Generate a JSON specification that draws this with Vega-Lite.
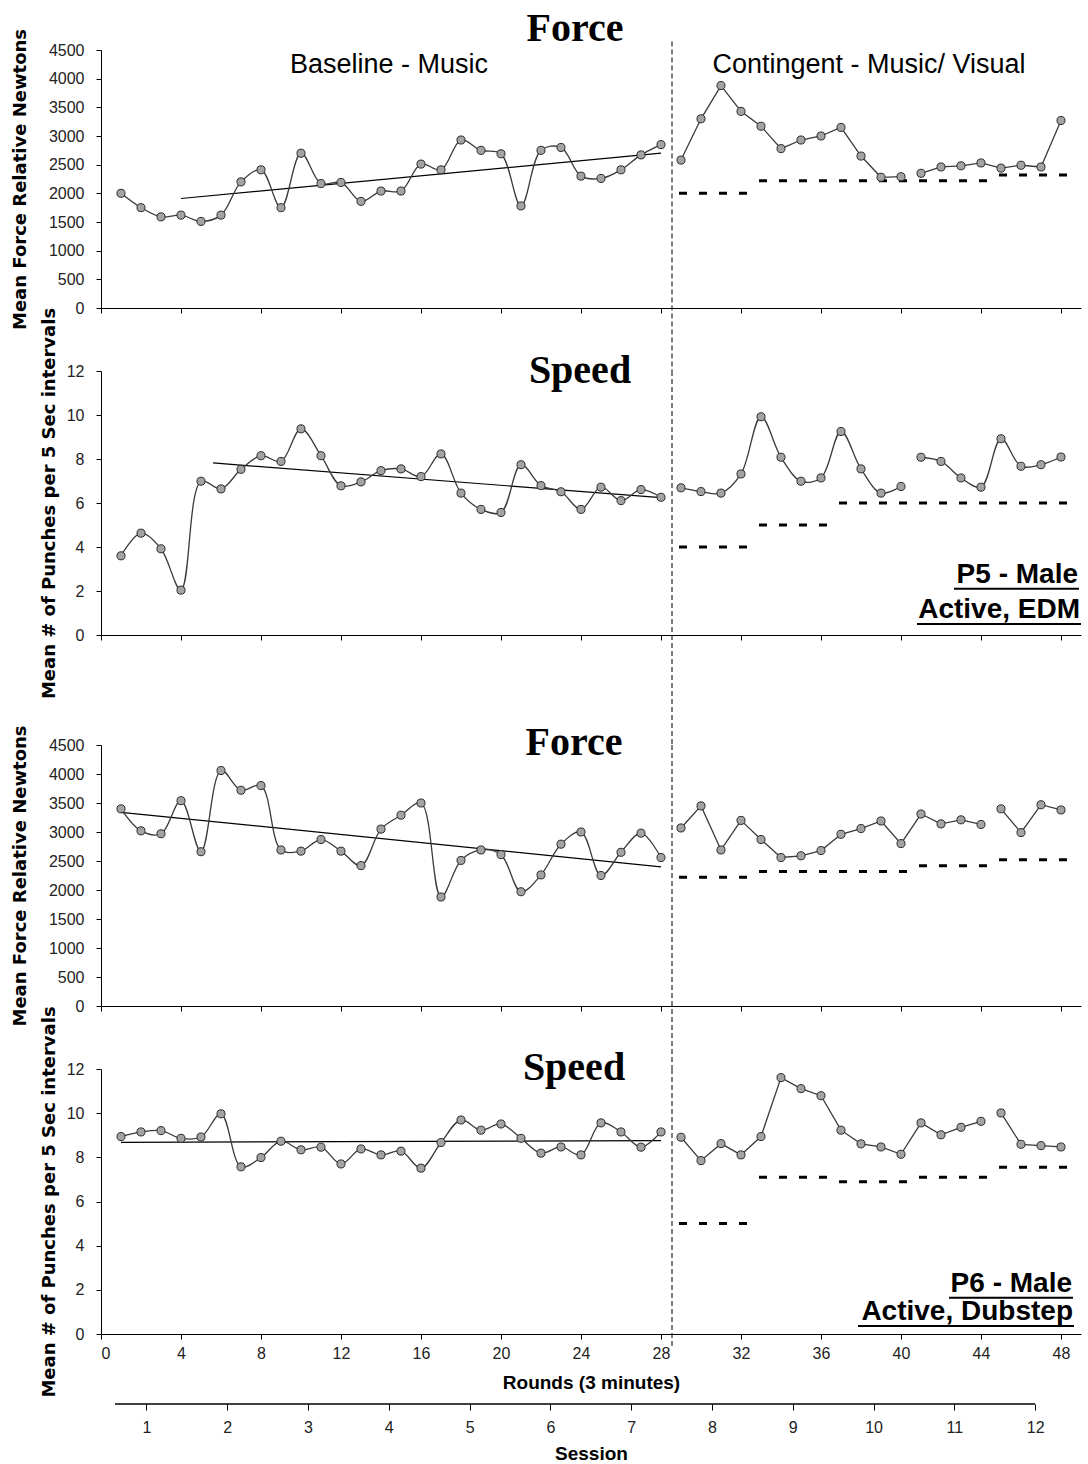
{
"$schema": "https://vega.github.io/schema/vega-lite/v6.json",
"background": "white",
"padding": {"left": 11, "top": 8, "right": 0, "bottom": 0},
"bounds": "flush",
"spacing": 63,
"datasets": {
"pts": [
{"p":"P5F","s":"B","r":1,"v":2000},{"p":"P5F","s":"B","r":2,"v":1750},{"p":"P5F","s":"B","r":3,"v":1590},{"p":"P5F","s":"B","r":4,"v":1620},{"p":"P5F","s":"B","r":5,"v":1510},{"p":"P5F","s":"B","r":6,"v":1620},{"p":"P5F","s":"B","r":7,"v":2200},{"p":"P5F","s":"B","r":8,"v":2410},{"p":"P5F","s":"B","r":9,"v":1750},{"p":"P5F","s":"B","r":10,"v":2700},{"p":"P5F","s":"B","r":11,"v":2170},{"p":"P5F","s":"B","r":12,"v":2190},{"p":"P5F","s":"B","r":13,"v":1860},{"p":"P5F","s":"B","r":14,"v":2040},{"p":"P5F","s":"B","r":15,"v":2040},{"p":"P5F","s":"B","r":16,"v":2510},{"p":"P5F","s":"B","r":17,"v":2410},{"p":"P5F","s":"B","r":18,"v":2930},{"p":"P5F","s":"B","r":19,"v":2750},{"p":"P5F","s":"B","r":20,"v":2690},{"p":"P5F","s":"B","r":21,"v":1780},{"p":"P5F","s":"B","r":22,"v":2750},{"p":"P5F","s":"B","r":23,"v":2800},{"p":"P5F","s":"B","r":24,"v":2300},{"p":"P5F","s":"B","r":25,"v":2260},{"p":"P5F","s":"B","r":26,"v":2410},{"p":"P5F","s":"B","r":27,"v":2670},{"p":"P5F","s":"B","r":28,"v":2850},
{"p":"P5F","s":"C1","r":29,"v":2580},{"p":"P5F","s":"C1","r":30,"v":3300},{"p":"P5F","s":"C1","r":31,"v":3880},{"p":"P5F","s":"C1","r":32,"v":3430},{"p":"P5F","s":"C1","r":33,"v":3170},{"p":"P5F","s":"C1","r":34,"v":2780},{"p":"P5F","s":"C1","r":35,"v":2930},{"p":"P5F","s":"C1","r":36,"v":3000},{"p":"P5F","s":"C1","r":37,"v":3150},{"p":"P5F","s":"C1","r":38,"v":2650},{"p":"P5F","s":"C1","r":39,"v":2280},{"p":"P5F","s":"C1","r":40,"v":2290},
{"p":"P5F","s":"C2","r":41,"v":2350},{"p":"P5F","s":"C2","r":42,"v":2460},{"p":"P5F","s":"C2","r":43,"v":2480},{"p":"P5F","s":"C2","r":44,"v":2530},{"p":"P5F","s":"C2","r":45,"v":2440},{"p":"P5F","s":"C2","r":46,"v":2490},{"p":"P5F","s":"C2","r":47,"v":2460},{"p":"P5F","s":"C2","r":48,"v":3270},
{"p":"P5S","s":"B","r":1,"v":3.6},{"p":"P5S","s":"B","r":2,"v":4.63},{"p":"P5S","s":"B","r":3,"v":3.92},{"p":"P5S","s":"B","r":4,"v":2.04},{"p":"P5S","s":"B","r":5,"v":6.99},{"p":"P5S","s":"B","r":6,"v":6.64},{"p":"P5S","s":"B","r":7,"v":7.53},{"p":"P5S","s":"B","r":8,"v":8.15},{"p":"P5S","s":"B","r":9,"v":7.89},{"p":"P5S","s":"B","r":10,"v":9.37},{"p":"P5S","s":"B","r":11,"v":8.15},{"p":"P5S","s":"B","r":12,"v":6.78},{"p":"P5S","s":"B","r":13,"v":6.96},{"p":"P5S","s":"B","r":14,"v":7.47},{"p":"P5S","s":"B","r":15,"v":7.55},{"p":"P5S","s":"B","r":16,"v":7.2},{"p":"P5S","s":"B","r":17,"v":8.23},{"p":"P5S","s":"B","r":18,"v":6.45},{"p":"P5S","s":"B","r":19,"v":5.71},{"p":"P5S","s":"B","r":20,"v":5.57},{"p":"P5S","s":"B","r":21,"v":7.74},{"p":"P5S","s":"B","r":22,"v":6.79},{"p":"P5S","s":"B","r":23,"v":6.51},{"p":"P5S","s":"B","r":24,"v":5.71},{"p":"P5S","s":"B","r":25,"v":6.72},{"p":"P5S","s":"B","r":26,"v":6.11},{"p":"P5S","s":"B","r":27,"v":6.61},{"p":"P5S","s":"B","r":28,"v":6.26},
{"p":"P5S","s":"C1","r":29,"v":6.69},{"p":"P5S","s":"C1","r":30,"v":6.52},{"p":"P5S","s":"C1","r":31,"v":6.45},{"p":"P5S","s":"C1","r":32,"v":7.32},{"p":"P5S","s":"C1","r":33,"v":9.92},{"p":"P5S","s":"C1","r":34,"v":8.08},{"p":"P5S","s":"C1","r":35,"v":6.99},{"p":"P5S","s":"C1","r":36,"v":7.14},{"p":"P5S","s":"C1","r":37,"v":9.25},{"p":"P5S","s":"C1","r":38,"v":7.55},{"p":"P5S","s":"C1","r":39,"v":6.45},{"p":"P5S","s":"C1","r":40,"v":6.75},
{"p":"P5S","s":"C2","r":41,"v":8.08},{"p":"P5S","s":"C2","r":42,"v":7.89},{"p":"P5S","s":"C2","r":43,"v":7.14},{"p":"P5S","s":"C2","r":44,"v":6.72},{"p":"P5S","s":"C2","r":45,"v":8.92},{"p":"P5S","s":"C2","r":46,"v":7.67},{"p":"P5S","s":"C2","r":47,"v":7.74},{"p":"P5S","s":"C2","r":48,"v":8.09},
{"p":"P6F","s":"B","r":1,"v":3400},{"p":"P6F","s":"B","r":2,"v":3020},{"p":"P6F","s":"B","r":3,"v":2970},{"p":"P6F","s":"B","r":4,"v":3540},{"p":"P6F","s":"B","r":5,"v":2660},{"p":"P6F","s":"B","r":6,"v":4060},{"p":"P6F","s":"B","r":7,"v":3720},{"p":"P6F","s":"B","r":8,"v":3800},{"p":"P6F","s":"B","r":9,"v":2690},{"p":"P6F","s":"B","r":10,"v":2670},{"p":"P6F","s":"B","r":11,"v":2870},{"p":"P6F","s":"B","r":12,"v":2670},{"p":"P6F","s":"B","r":13,"v":2420},{"p":"P6F","s":"B","r":14,"v":3050},{"p":"P6F","s":"B","r":15,"v":3290},{"p":"P6F","s":"B","r":16,"v":3500},{"p":"P6F","s":"B","r":17,"v":1880},{"p":"P6F","s":"B","r":18,"v":2510},{"p":"P6F","s":"B","r":19,"v":2690},{"p":"P6F","s":"B","r":20,"v":2610},{"p":"P6F","s":"B","r":21,"v":1970},{"p":"P6F","s":"B","r":22,"v":2260},{"p":"P6F","s":"B","r":23,"v":2790},{"p":"P6F","s":"B","r":24,"v":3000},{"p":"P6F","s":"B","r":25,"v":2250},{"p":"P6F","s":"B","r":26,"v":2650},{"p":"P6F","s":"B","r":27,"v":2980},{"p":"P6F","s":"B","r":28,"v":2560},
{"p":"P6F","s":"C1","r":29,"v":3070},{"p":"P6F","s":"C1","r":30,"v":3450},{"p":"P6F","s":"C1","r":31,"v":2690},{"p":"P6F","s":"C1","r":32,"v":3200},{"p":"P6F","s":"C1","r":33,"v":2870},{"p":"P6F","s":"C1","r":34,"v":2560},{"p":"P6F","s":"C1","r":35,"v":2590},{"p":"P6F","s":"C1","r":36,"v":2680},{"p":"P6F","s":"C1","r":37,"v":2960},{"p":"P6F","s":"C1","r":38,"v":3060},{"p":"P6F","s":"C1","r":39,"v":3190},{"p":"P6F","s":"C1","r":40,"v":2800},{"p":"P6F","s":"C1","r":41,"v":3310},{"p":"P6F","s":"C1","r":42,"v":3140},{"p":"P6F","s":"C1","r":43,"v":3210},{"p":"P6F","s":"C1","r":44,"v":3130},
{"p":"P6F","s":"C2","r":45,"v":3400},{"p":"P6F","s":"C2","r":46,"v":2990},{"p":"P6F","s":"C2","r":47,"v":3470},{"p":"P6F","s":"C2","r":48,"v":3380},
{"p":"P6S","s":"B","r":1,"v":8.94},{"p":"P6S","s":"B","r":2,"v":9.15},{"p":"P6S","s":"B","r":3,"v":9.21},{"p":"P6S","s":"B","r":4,"v":8.86},{"p":"P6S","s":"B","r":5,"v":8.92},{"p":"P6S","s":"B","r":6,"v":9.97},{"p":"P6S","s":"B","r":7,"v":7.57},{"p":"P6S","s":"B","r":8,"v":7.99},{"p":"P6S","s":"B","r":9,"v":8.73},{"p":"P6S","s":"B","r":10,"v":8.34},{"p":"P6S","s":"B","r":11,"v":8.46},{"p":"P6S","s":"B","r":12,"v":7.7},{"p":"P6S","s":"B","r":13,"v":8.38},{"p":"P6S","s":"B","r":14,"v":8.11},{"p":"P6S","s":"B","r":15,"v":8.28},{"p":"P6S","s":"B","r":16,"v":7.51},{"p":"P6S","s":"B","r":17,"v":8.67},{"p":"P6S","s":"B","r":18,"v":9.69},{"p":"P6S","s":"B","r":19,"v":9.23},{"p":"P6S","s":"B","r":20,"v":9.51},{"p":"P6S","s":"B","r":21,"v":8.86},{"p":"P6S","s":"B","r":22,"v":8.19},{"p":"P6S","s":"B","r":23,"v":8.47},{"p":"P6S","s":"B","r":24,"v":8.11},{"p":"P6S","s":"B","r":25,"v":9.56},{"p":"P6S","s":"B","r":26,"v":9.15},{"p":"P6S","s":"B","r":27,"v":8.46},{"p":"P6S","s":"B","r":28,"v":9.15},
{"p":"P6S","s":"C1","r":29,"v":8.91},{"p":"P6S","s":"C1","r":30,"v":7.85},{"p":"P6S","s":"C1","r":31,"v":8.62},{"p":"P6S","s":"C1","r":32,"v":8.11},{"p":"P6S","s":"C1","r":33,"v":8.94},{"p":"P6S","s":"C1","r":34,"v":11.61},{"p":"P6S","s":"C1","r":35,"v":11.11},{"p":"P6S","s":"C1","r":36,"v":10.79},{"p":"P6S","s":"C1","r":37,"v":9.23},{"p":"P6S","s":"C1","r":38,"v":8.61},{"p":"P6S","s":"C1","r":39,"v":8.47},{"p":"P6S","s":"C1","r":40,"v":8.14},{"p":"P6S","s":"C1","r":41,"v":9.56},{"p":"P6S","s":"C1","r":42,"v":9.02},{"p":"P6S","s":"C1","r":43,"v":9.36},{"p":"P6S","s":"C1","r":44,"v":9.63},
{"p":"P6S","s":"C2","r":45,"v":10.01},{"p":"P6S","s":"C2","r":46,"v":8.59},{"p":"P6S","s":"C2","r":47,"v":8.53},{"p":"P6S","s":"C2","r":48,"v":8.47}
],
"trend": [
{"p":"P5F","r":4,"v":1910,"r2":28,"v2":2700},
{"p":"P5S","r":5.6,"v":7.82,"r2":28,"v2":6.24},
{"p":"P6F","r":1,"v":3340,"r2":28,"v2":2400},
{"p":"P6S","r":1,"v":8.68,"r2":28,"v2":8.76}
],
"crit": [
{"p":"P5F","r":28.9,"r2":32.3,"v":2000},{"p":"P5F","r":32.9,"r2":44.3,"v":2220},{"p":"P5F","r":44.9,"r2":48.3,"v":2320},
{"p":"P5S","r":28.9,"r2":32.3,"v":4.0},{"p":"P5S","r":32.9,"r2":36.3,"v":5.0},{"p":"P5S","r":36.9,"r2":48.3,"v":6.0},
{"p":"P6F","r":28.9,"r2":32.3,"v":2220},{"p":"P6F","r":32.9,"r2":40.3,"v":2320},{"p":"P6F","r":40.9,"r2":44.3,"v":2420},{"p":"P6F","r":44.9,"r2":48.3,"v":2520},
{"p":"P6S","r":28.9,"r2":32.3,"v":5.0},{"p":"P6S","r":32.9,"r2":36.3,"v":7.1},{"p":"P6S","r":36.9,"r2":40.3,"v":6.9},{"p":"P6S","r":40.9,"r2":44.3,"v":7.1},{"p":"P6S","r":44.9,"r2":48.3,"v":7.55}
],
"vline": [
{"p":"P5F","r":28.55,"v":4650,"v2":-1099},
{"p":"P5S","r":28.55,"v":12,"v2":-5.0},
{"p":"P6F","r":28.55,"v":4500,"v2":-1086},
{"p":"P6S","r":28.55,"v":12,"v2":-0.6}
],
"ttl": [
{"p":"P5F","r":23.7,"v":4657,"t":"Force"},
{"p":"P5S","r":23.95,"v":11.45,"t":"Speed"},
{"p":"P6F","r":23.65,"v":4328,"t":"Force"},
{"p":"P6S","r":23.65,"v":11.5,"t":"Speed"}
],
"notes": [
{"p":"P5F","r":14.4,"v":4100,"t":"Baseline - Music"},
{"p":"P5F","r":38.4,"v":4100,"t":"Contingent - Music/ Visual"},
{"p":"P5S","r":48.85,"v":2.37,"t":"P5 - Male"},
{"p":"P5S","r":48.95,"v":0.78,"t":"Active, EDM"},
{"p":"P6S","r":48.55,"v":1.91,"t":"P6 - Male"},
{"p":"P6S","r":48.6,"v":0.64,"t":"Active, Dubstep"}
],
"ul": [
{"p":"P5S","r":42.65,"r2":48.9,"v":2.1},
{"p":"P5S","r":40.8,"r2":49.0,"v":0.5},
{"p":"P6S","r":42.4,"r2":48.6,"v":1.64},
{"p":"P6S","r":37.85,"r2":48.65,"v":0.36}
],
"sess": [{"a":0.611,"b":12.0}]
},
"vconcat": [
{
"width": 980, "height": 258,
"encoding": {
"x": {"field": "r", "type": "quantitative", "scale": {"domain": [0, 49], "nice": false, "zero": false}, "axis": {"values": [0,4,8,12,16,20,24,28,32,36,40,44,48], "labels": false, "title": null}},
"y": {"field": "v", "type": "quantitative", "scale": {"domain": [0, 4500], "nice": false}, "axis": {"values": [0,500,1000,1500,2000,2500,3000,3500,4000,4500], "format": "d", "title": "Mean Force Relative Newtons", "titlePadding": 19}}
},
"layer": [
{"data": {"name": "vline"}, "transform": [{"filter": "datum.p == 'P5F'"}], "mark": {"type": "rule", "strokeDash": [5, 3], "strokeWidth": 1, "color": "black"}, "encoding": {"y2": {"field": "v2"}}},
{"data": {"name": "crit"}, "transform": [{"filter": "datum.p == 'P5F'"}], "mark": {"type": "rule", "strokeDash": [8, 12], "strokeWidth": 3, "color": "black"}, "encoding": {"x2": {"field": "r2"}}},
{"data": {"name": "trend"}, "transform": [{"filter": "datum.p == 'P5F'"}], "mark": {"type": "rule", "strokeWidth": 1.2, "color": "black"}, "encoding": {"x2": {"field": "r2"}, "y2": {"field": "v2"}}},
{"data": {"name": "pts"}, "transform": [{"filter": "datum.p == 'P5F' && datum.s == 'B'"}], "mark": {"type": "line", "interpolate": "catmull-rom", "color": "#3a3a3a", "strokeWidth": 1.3}},
{"data": {"name": "pts"}, "transform": [{"filter": "datum.p == 'P5F' && datum.s != 'B'"}], "mark": {"type": "line", "color": "#3a3a3a", "strokeWidth": 1.3}, "encoding": {"detail": {"field": "s"}}},
{"data": {"name": "pts"}, "transform": [{"filter": "datum.p == 'P5F'"}], "mark": {"type": "point", "filled": true, "fill": "#a3a3a3", "stroke": "#2b2b2b", "strokeWidth": 1, "size": 65, "opacity": 1}},
{"data": {"name": "notes"}, "transform": [{"filter": "datum.p == 'P5F'"}], "mark": {"type": "text", "font": "Liberation Sans", "fontSize": 27, "align": "center", "baseline": "alphabetic", "color": "black"}, "encoding": {"text": {"field": "t"}}},
{"data": {"name": "ttl"}, "transform": [{"filter": "datum.p == 'P5F'"}], "mark": {"type": "text", "font": "Liberation Serif", "fontSize": 40, "fontWeight": "bold", "align": "center", "baseline": "alphabetic", "color": "black"}, "encoding": {"text": {"field": "t"}}}
]
},
{
"width": 980, "height": 264,
"encoding": {
"x": {"field": "r", "type": "quantitative", "scale": {"domain": [0, 49], "nice": false, "zero": false}, "axis": {"values": [0,4,8,12,16,20,24,28,32,36,40,44,48], "labels": false, "title": null}},
"y": {"field": "v", "type": "quantitative", "scale": {"domain": [0, 12], "nice": false}, "axis": {"values": [0,2,4,6,8,10,12], "title": "Mean # of Punches per 5  Sec intervals", "titlePadding": 8}}
},
"layer": [
{"data": {"name": "vline"}, "transform": [{"filter": "datum.p == 'P5S'"}], "mark": {"type": "rule", "strokeDash": [5, 3], "strokeWidth": 1, "color": "black"}, "encoding": {"y2": {"field": "v2"}}},
{"data": {"name": "crit"}, "transform": [{"filter": "datum.p == 'P5S'"}], "mark": {"type": "rule", "strokeDash": [8, 12], "strokeWidth": 3, "color": "black"}, "encoding": {"x2": {"field": "r2"}}},
{"data": {"name": "trend"}, "transform": [{"filter": "datum.p == 'P5S'"}], "mark": {"type": "rule", "strokeWidth": 1.2, "color": "black"}, "encoding": {"x2": {"field": "r2"}, "y2": {"field": "v2"}}},
{"data": {"name": "pts"}, "transform": [{"filter": "datum.p == 'P5S' && datum.s == 'B'"}], "mark": {"type": "line", "interpolate": "catmull-rom", "color": "#3a3a3a", "strokeWidth": 1.3}},
{"data": {"name": "pts"}, "transform": [{"filter": "datum.p == 'P5S' && datum.s != 'B'"}], "mark": {"type": "line", "interpolate": "catmull-rom", "color": "#3a3a3a", "strokeWidth": 1.3}, "encoding": {"detail": {"field": "s"}}},
{"data": {"name": "pts"}, "transform": [{"filter": "datum.p == 'P5S'"}], "mark": {"type": "point", "filled": true, "fill": "#a3a3a3", "stroke": "#2b2b2b", "strokeWidth": 1, "size": 65, "opacity": 1}},
{"data": {"name": "notes"}, "transform": [{"filter": "datum.p == 'P5S'"}], "mark": {"type": "text", "font": "Liberation Sans", "fontSize": 28, "fontWeight": "bold", "align": "right", "baseline": "alphabetic", "color": "black"}, "encoding": {"text": {"field": "t"}}},
{"data": {"name": "ul"}, "transform": [{"filter": "datum.p == 'P5S'"}], "mark": {"type": "rule", "strokeWidth": 2, "color": "black"}, "encoding": {"x2": {"field": "r2"}}},
{"data": {"name": "ttl"}, "transform": [{"filter": "datum.p == 'P5S'"}], "mark": {"type": "text", "font": "Liberation Serif", "fontSize": 40, "fontWeight": "bold", "align": "center", "baseline": "alphabetic", "color": "black"}, "encoding": {"text": {"field": "t"}}}
]
},
{
"width": 980, "height": 308,
"encoding": {
"x": {"field": "r", "type": "quantitative", "scale": {"domain": [0, 49], "nice": false, "zero": false}, "axis": {"values": [0,4,8,12,16,20,24,28,32,36,40,44,48], "labels": false, "title": null}},
"y": {"field": "v", "type": "quantitative", "scale": {"domain": [0, 4500], "range": [308, 47], "nice": false}, "axis": {"values": [0,500,1000,1500,2000,2500,3000,3500,4000,4500], "format": "d", "title": "Mean Force Relative Newtons", "titlePadding": 19}}
},
"layer": [
{"data": {"name": "vline"}, "transform": [{"filter": "datum.p == 'P6F'"}], "mark": {"type": "rule", "strokeDash": [5, 3], "strokeWidth": 1, "color": "black"}, "encoding": {"y2": {"field": "v2"}}},
{"data": {"name": "crit"}, "transform": [{"filter": "datum.p == 'P6F'"}], "mark": {"type": "rule", "strokeDash": [8, 12], "strokeWidth": 3, "color": "black"}, "encoding": {"x2": {"field": "r2"}}},
{"data": {"name": "trend"}, "transform": [{"filter": "datum.p == 'P6F'"}], "mark": {"type": "rule", "strokeWidth": 1.2, "color": "black"}, "encoding": {"x2": {"field": "r2"}, "y2": {"field": "v2"}}},
{"data": {"name": "pts"}, "transform": [{"filter": "datum.p == 'P6F' && datum.s == 'B'"}], "mark": {"type": "line", "interpolate": "catmull-rom", "color": "#3a3a3a", "strokeWidth": 1.3}},
{"data": {"name": "pts"}, "transform": [{"filter": "datum.p == 'P6F' && datum.s != 'B'"}], "mark": {"type": "line", "color": "#3a3a3a", "strokeWidth": 1.3}, "encoding": {"detail": {"field": "s"}}},
{"data": {"name": "pts"}, "transform": [{"filter": "datum.p == 'P6F'"}], "mark": {"type": "point", "filled": true, "fill": "#a3a3a3", "stroke": "#2b2b2b", "strokeWidth": 1, "size": 65, "opacity": 1}},
{"data": {"name": "ttl"}, "transform": [{"filter": "datum.p == 'P6F'"}], "mark": {"type": "text", "font": "Liberation Serif", "fontSize": 40, "fontWeight": "bold", "align": "center", "baseline": "alphabetic", "color": "black"}, "encoding": {"text": {"field": "t"}}}
]
},
{
"width": 980, "height": 265,
"encoding": {
"x": {"field": "r", "type": "quantitative", "scale": {"domain": [0, 49], "nice": false, "zero": false}, "axis": {"values": [0,4,8,12,16,20,24,28,32,36,40,44,48], "title": "Rounds (3 minutes)", "labelPadding": 6, "titleFont": "Liberation Sans", "titleFontSize": 19, "titleFontWeight": "bold", "titlePadding": 12}},
"y": {"field": "v", "type": "quantitative", "scale": {"domain": [0, 12], "nice": false}, "axis": {"values": [0,2,4,6,8,10,12], "title": "Mean # of Punches per 5  Sec intervals", "titlePadding": 8}}
},
"layer": [
{"data": {"name": "vline"}, "transform": [{"filter": "datum.p == 'P6S'"}], "mark": {"type": "rule", "strokeDash": [5, 3], "strokeWidth": 1, "color": "black"}, "encoding": {"y2": {"field": "v2"}}},
{"data": {"name": "crit"}, "transform": [{"filter": "datum.p == 'P6S'"}], "mark": {"type": "rule", "strokeDash": [8, 12], "strokeWidth": 3, "color": "black"}, "encoding": {"x2": {"field": "r2"}}},
{"data": {"name": "trend"}, "transform": [{"filter": "datum.p == 'P6S'"}], "mark": {"type": "rule", "strokeWidth": 1.2, "color": "black"}, "encoding": {"x2": {"field": "r2"}, "y2": {"field": "v2"}}},
{"data": {"name": "pts"}, "transform": [{"filter": "datum.p == 'P6S' && datum.s == 'B'"}], "mark": {"type": "line", "interpolate": "catmull-rom", "color": "#3a3a3a", "strokeWidth": 1.3}},
{"data": {"name": "pts"}, "transform": [{"filter": "datum.p == 'P6S' && datum.s != 'B'"}], "mark": {"type": "line", "color": "#3a3a3a", "strokeWidth": 1.3}, "encoding": {"detail": {"field": "s"}}},
{"data": {"name": "pts"}, "transform": [{"filter": "datum.p == 'P6S'"}], "mark": {"type": "point", "filled": true, "fill": "#a3a3a3", "stroke": "#2b2b2b", "strokeWidth": 1, "size": 65, "opacity": 1}},
{"data": {"name": "notes"}, "transform": [{"filter": "datum.p == 'P6S'"}], "mark": {"type": "text", "font": "Liberation Sans", "fontSize": 28, "fontWeight": "bold", "align": "right", "baseline": "alphabetic", "color": "black"}, "encoding": {"text": {"field": "t"}}},
{"data": {"name": "ul"}, "transform": [{"filter": "datum.p == 'P6S'"}], "mark": {"type": "rule", "strokeWidth": 2, "color": "black"}, "encoding": {"x2": {"field": "r2"}}},
{"data": {"name": "ttl"}, "transform": [{"filter": "datum.p == 'P6S'"}], "mark": {"type": "text", "font": "Liberation Serif", "fontSize": 40, "fontWeight": "bold", "align": "center", "baseline": "alphabetic", "color": "black"}, "encoding": {"text": {"field": "t"}}}
]
},
{
"width": 980, "height": 7,
"data": {"name": "sess"},
"mark": {"type": "rule", "color": "black", "strokeWidth": 1.5},
"encoding": {
"x": {"field": "a", "type": "quantitative", "scale": {"domain": [0.438, 12.567], "nice": false, "zero": false}, "axis": {"values": [1,2,3,4,5,6,7,8,9,10,11,12], "format": "d", "domain": false, "tickSize": 6, "title": "Session", "labelPadding": 9, "titleFont": "Liberation Sans", "titleFontSize": 19, "titleFontWeight": "bold", "titlePadding": 9}},
"x2": {"field": "b"},
"y": {"datum": 0, "type": "quantitative", "scale": {"domain": [0, 1]}, "axis": null}
}
}
],
"config": {
"view": {"stroke": null},
"axis": {"grid": false, "domainColor": "black", "tickColor": "black", "tickSize": 5, "labelFont": "Liberation Sans", "labelFontSize": 16, "labelColor": "#222222", "labelPadding": 12, "titleFont": "DejaVu Sans", "titleFontSize": 18, "titleFontWeight": "bold", "titleColor": "black"}
}
}
